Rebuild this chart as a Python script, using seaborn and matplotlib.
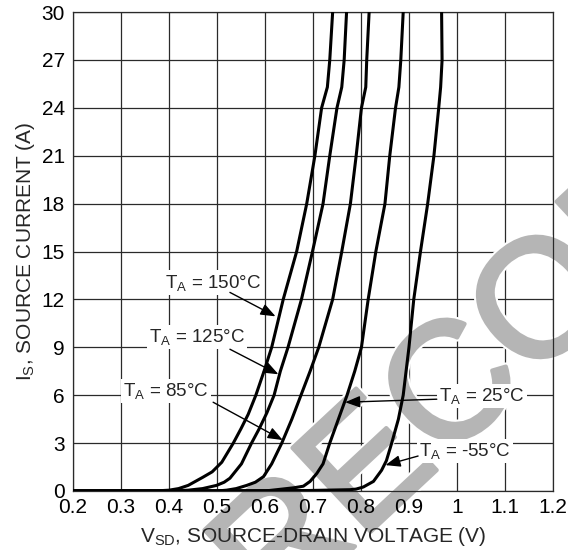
import numpy as np
import pandas as pd
import matplotlib
matplotlib.use("Agg")
import matplotlib.pyplot as plt
import matplotlib.patheffects as pe
import seaborn as sns

# ---- data ----
temps = ["150°C", "125°C", "85°C", "25°C", "-55°C"]

v_150 = [0.20, 0.37, 0.40, 0.42, 0.44, 0.455, 0.47, 0.49, 0.51, 0.534, 0.55, 0.565, 0.581, 0.598, 0.614, 0.638, 0.666, 0.687, 0.704, 0.718, 0.730, 0.735, 0.741]
i_150 = [0.0, 0.0, 0.05, 0.15, 0.35, 0.6, 0.85, 1.2, 1.8, 3.0, 3.9, 4.8, 6.0, 7.5, 9.0, 12.0, 15.0, 18.0, 21.0, 24.0, 25.3, 27.0, 30.0]

v_125 = [0.20, 0.40, 0.44, 0.47, 0.499, 0.515, 0.527, 0.551, 0.572, 0.588, 0.604, 0.619, 0.632, 0.648, 0.676, 0.699, 0.721, 0.735, 0.750, 0.760, 0.765, 0.770]
i_125 = [0.0, 0.0, 0.05, 0.15, 0.35, 0.55, 0.8, 1.7, 3.0, 3.9, 4.9, 6.0, 7.5, 9.0, 12.0, 15.0, 18.0, 21.0, 24.0, 25.3, 27.0, 30.0]

v_85 = [0.20, 0.50, 0.52, 0.54, 0.562, 0.58, 0.597, 0.614, 0.635, 0.656, 0.675, 0.694, 0.712, 0.741, 0.760, 0.778, 0.790, 0.801, 0.810, 0.812, 0.817]
i_85 = [0.0, 0.0, 0.05, 0.15, 0.35, 0.55, 0.9, 1.7, 3.0, 4.5, 6.0, 7.5, 9.0, 12.0, 15.0, 18.0, 21.0, 24.0, 25.3, 27.0, 30.0]

v_25 = [0.20, 0.60, 0.63, 0.66, 0.68, 0.694, 0.708, 0.721, 0.735, 0.753, 0.771, 0.787, 0.801, 0.815, 0.831, 0.850, 0.860, 0.872, 0.879, 0.883, 0.888]
i_25 = [0.0, 0.0, 0.1, 0.2, 0.3, 0.6, 1.1, 1.7, 3.0, 4.5, 6.0, 7.5, 9.0, 12.0, 15.0, 18.0, 21.0, 24.0, 25.3, 27.0, 30.0]

v_m55 = [0.20, 0.69, 0.777, 0.79, 0.805, 0.826, 0.843, 0.853, 0.864, 0.878, 0.888, 0.894, 0.900, 0.910, 0.924, 0.939, 0.952, 0.962, 0.966, 0.969, 0.968]
i_m55 = [0.0, 0.03, 0.08, 0.12, 0.25, 0.6, 1.3, 1.9, 3.0, 4.5, 6.0, 7.5, 9.0, 12.0, 15.0, 18.0, 21.0, 24.0, 25.3, 27.0, 30.0]

x_ticks = [0.2, 0.3, 0.4, 0.5, 0.6, 0.7, 0.8, 0.9, 1.0, 1.1, 1.2]
x_tick_labels = ["0.2", "0.3", "0.4", "0.5", "0.6", "0.7", "0.8", "0.9", "1", "1.1", "1.2"]
y_ticks = [0, 3, 6, 9, 12, 15, 18, 21, 24, 27, 30]

# label text positions and arrow (start, tip) in data coordinates
label_xy = [(0.492, 13.06), (0.458, 9.62), (0.394, 6.25), (1.052, 5.94), (1.017, 2.5)]
arrow_from = [(0.527, 12.44), (0.527, 8.88), (0.492, 5.56), (0.958, 5.75), (0.919, 2.19)]
arrow_to = [(0.622, 10.94), (0.628, 7.31), (0.637, 3.19), (0.767, 5.56), (0.851, 1.62)]

curves = [(v_150, i_150), (v_125, i_125), (v_85, i_85), (v_25, i_25), (v_m55, i_m55)]
frames = []
for t, (v, i) in zip(temps, curves):
    frames.append(pd.DataFrame({"V": v, "I": i, "T": t}))
df = pd.concat(frames, ignore_index=True)

sns.set_style("white")
plt.rcParams["font.family"] = ["Liberation Sans", "DejaVu Sans"]
plt.rcParams["mathtext.default"] = "regular"

fig = plt.figure(figsize=(5.68, 5.5), dpi=100)
ax = fig.add_axes([0.1285, 0.1073, 0.845, 0.8707])
ax.set_axisbelow(False)

# grid drawn beneath the watermark
grid_kw = dict(color="#2a2a2a", linewidth=0.9, zorder=0.6)
for xv in x_ticks:
    ax.axvline(xv, **grid_kw)
for yv in y_ticks:
    ax.axhline(yv, **grid_kw)

# watermark
ax.text(0.48, -0.133, "RECOMMENDED", transform=fig.transFigure, fontsize=120,
        color="#b5b5b5", rotation=43, rotation_mode="anchor", ha="left",
        va="baseline", zorder=1, clip_on=False,
        path_effects=[pe.Stroke(linewidth=6, foreground="white"),
                      pe.Stroke(linewidth=3, foreground="#b5b5b5"),
                      pe.Normal()])

sns.lineplot(data=df, x="V", y="I", hue="T", units="T", estimator=None,
             sort=False, palette=["black"] * 5, linewidth=2.2, legend=False,
             ax=ax, zorder=3)

ax.set_xlim(0.2, 1.2)
ax.set_ylim(0, 30)
ax.set_xticks(x_ticks)
ax.set_xticklabels(x_tick_labels)
ax.set_yticks(y_ticks)
ax.grid(False)
ax.tick_params(length=0, labelsize=15, colors="black")
ax.tick_params(axis="y", pad=6)
ax.tick_params(axis="x", pad=5)
for s in ax.spines.values():
    s.set_visible(True)
    s.set_color("#2a2a2a")
    s.set_linewidth(0.9)

ax.set_xlabel("V$_{SD}$, SOURCE-DRAIN VOLTAGE (V)", fontsize=15, labelpad=6)
ax.set_ylabel("I$_{S}$, SOURCE CURRENT (A)", fontsize=15, labelpad=3)

for t, (lx, ly), a0, a1 in zip(temps, label_xy, arrow_from, arrow_to):
    ax.text(lx, ly, "T$_{A}$ = " + t, fontsize=13.5, ha="center", va="center",
            zorder=5, bbox=dict(facecolor="white", edgecolor="none", pad=1.5))
    ax.annotate("", xy=a1, xytext=a0, zorder=5,
                arrowprops=dict(arrowstyle="-|>,head_length=0.9,head_width=0.35",
                                color="black", lw=1.0, shrinkA=0, shrinkB=0))

fig.savefig("out.png", dpi=100)
